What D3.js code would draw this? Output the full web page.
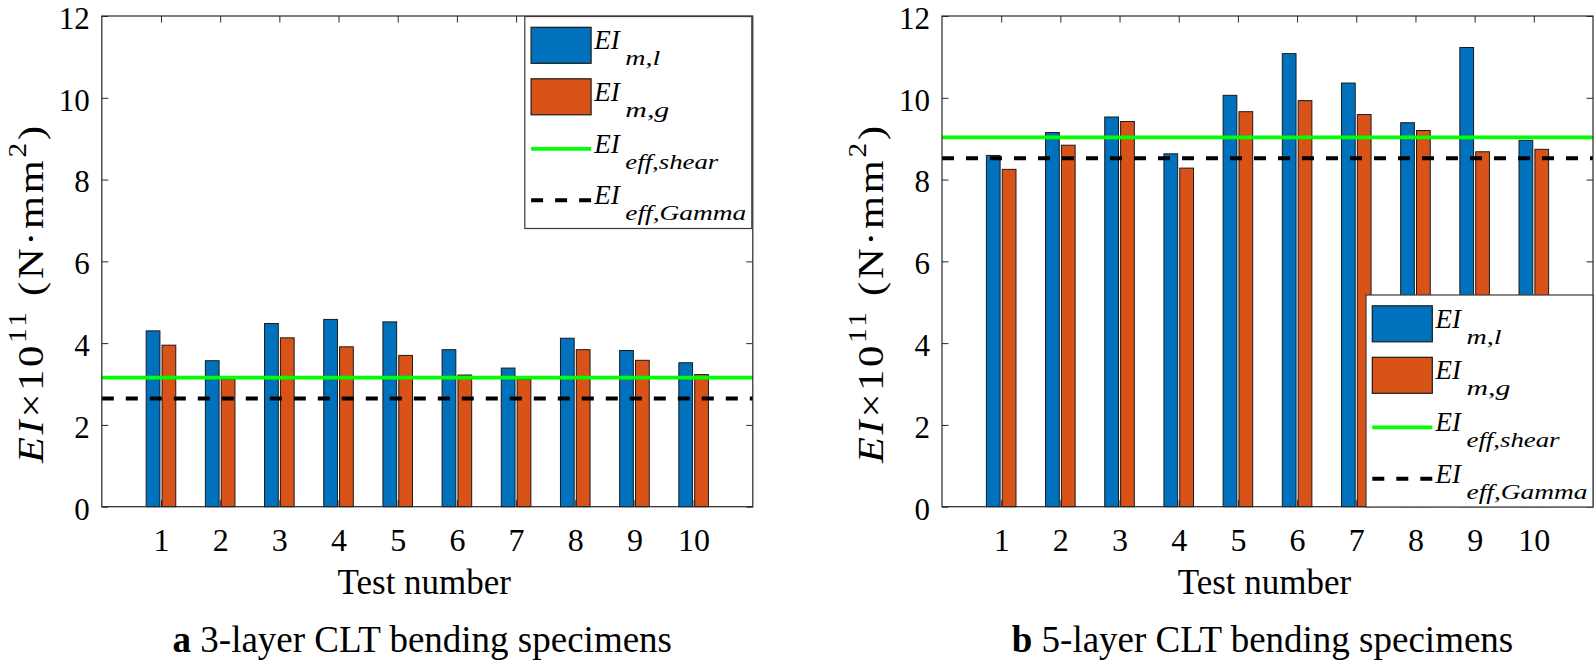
<!DOCTYPE html>
<html>
<head>
<meta charset="utf-8">
<script src="https://cdn.jsdelivr.net/npm/d3@7"></script>
<style>
  html, body { margin: 0; padding: 0; background: #fff; }
  svg { display: block; }
  text { font-family: "Liberation Serif", "Times New Roman", serif; fill: #000; }
</style>
</head>
<body>
<svg id="chart" width="1594" height="662"></svg>
<script>
// ---- data ----
const categories = [1, 2, 3, 4, 5, 6, 7, 8, 9, 10];
const yTicks = [0, 2, 4, 6, 8, 10, 12];

// Panel a: 3-layer CLT
const eiMlA = [4.30, 3.57, 4.48, 4.58, 4.52, 3.84, 3.39, 4.12, 3.82, 3.52];
const eiMgA = [3.95, 3.12, 4.13, 3.91, 3.70, 3.22, 3.12, 3.84, 3.58, 3.23];
const eiShearA = 3.155;
const eiGammaA = 2.646;

// Panel b: 5-layer CLT
const eiMlB = [8.59, 9.15, 9.53, 8.63, 10.06, 11.08, 10.36, 9.39, 11.23, 8.96];
const eiMgB = [8.25, 8.84, 9.42, 8.28, 9.66, 9.93, 9.59, 9.20, 8.68, 8.74];
const eiShearB = 9.03;
const eiGammaB = 8.52;

const legendItems = [
  { kind: "bar", color: "#0072BD", sub: "m,l" },
  { kind: "bar", color: "#D95319", sub: "m,g" },
  { kind: "solid", color: "#00FF00", sub: "eff,shear" },
  { kind: "dash", color: "#000000", sub: "eff,Gamma" }
];

const captions = [
  { letter: "a", text: " 3-layer CLT bending specimens" },
  { letter: "b", text: " 5-layer CLT bending specimens" }
];

// ---- drawing ----
const svg = d3.select("#chart");
const AX = "#262626";
const FONT = '"Liberation Serif", "Times New Roman", serif';
const yTop = 16, yBot = 506.7;
const tickLen = 6.5;

function panel(cfg) {
  const { x0, x1, ml, mg, shear, gamma, legendPos, caption, ylabelX } = cfg;
  const x = d3.scaleLinear().domain([0, 11]).range([x0, x1]);
  const y = d3.scaleLinear().domain([0, 12]).range([yBot, yTop]);
  const unit = x(1) - x(0);
  const bw = 0.232 * unit, off = 0.134 * unit;
  const g = svg.append("g");

  // bars
  const series = [{ vals: ml, color: "#0072BD", dx: -off }, { vals: mg, color: "#D95319", dx: off }];
  series.forEach(s => {
    g.append("g").selectAll("rect").data(categories).join("rect")
      .attr("x", (c) => x(c) + s.dx - bw / 2)
      .attr("y", (c, i) => y(s.vals[i]))
      .attr("width", bw)
      .attr("height", (c, i) => y(0) - y(s.vals[i]))
      .attr("fill", s.color)
      .attr("stroke", "#1a1a1a")
      .attr("stroke-width", 1);
  });

  // reference lines
  g.append("line").attr("x1", x0).attr("x2", x1).attr("y1", y(shear)).attr("y2", y(shear))
    .attr("stroke", "#00FF00").attr("stroke-width", 3.8);
  g.append("line").attr("x1", x0).attr("x2", x1).attr("y1", y(gamma)).attr("y2", y(gamma))
    .attr("stroke", "#000").attr("stroke-width", 4).attr("stroke-dasharray", "12,12");

  // axes
  const axL = g.append("g").attr("transform", `translate(${x0},0)`)
    .call(d3.axisLeft(y).tickValues(yTicks).tickSize(-tickLen).tickPadding(12).tickFormat(d3.format("d")));
  const axR = g.append("g").attr("transform", `translate(${x1},0)`)
    .call(d3.axisRight(y).tickValues(yTicks).tickSize(-tickLen).tickFormat(""));
  const axB = g.append("g").attr("transform", `translate(0,${yBot})`)
    .call(d3.axisBottom(x).tickValues(categories).tickSize(-tickLen).tickFormat(d3.format("d")));
  const axT = g.append("g").attr("transform", `translate(0,${yTop})`)
    .call(d3.axisTop(x).tickValues(categories).tickSize(-tickLen).tickFormat(""));
  [axL, axR, axB, axT].forEach(a => {
    a.select(".domain").remove();
    a.attr("font-family", FONT);
    a.selectAll(".tick line").attr("stroke", AX).attr("stroke-width", 1);
  });
  axL.selectAll("text").style("font-family", FONT).style("font-size", "31px").attr("fill", "#000")
    .attr("dy", "0.4em");
  axB.selectAll("text").style("font-family", FONT).style("font-size", "32px").attr("fill", "#000")
    .attr("y", 551 - yBot).attr("dy", 0);

  // box
  g.append("rect").attr("x", x0).attr("y", yTop).attr("width", x1 - x0).attr("height", yBot - yTop)
    .attr("fill", "none").attr("stroke", AX).attr("stroke-width", 1.2);

  // legend
  const L = g.append("g").attr("transform", `translate(${legendPos[0]},${legendPos[1]})`);
  L.append("rect").attr("x", 0).attr("y", 0).attr("width", 227).attr("height", 212)
    .attr("fill", "#fff").attr("stroke", "#3a3a3a").attr("stroke-width", 1.2);
  const rowC = [28.8, 80.3, 132.3, 183.8];
  const subW = [35, 44, 93, 121];
  legendItems.forEach((it, i) => {
    const cy = rowC[i];
    if (it.kind === "bar") {
      L.append("rect").attr("x", 6.3).attr("y", cy - 18).attr("width", 60).attr("height", 36)
        .attr("fill", it.color).attr("stroke", "#1a1a1a").attr("stroke-width", 1.2);
    } else {
      L.append("line").attr("x1", 6.3).attr("x2", 66.3).attr("y1", cy).attr("y2", cy)
        .attr("stroke", it.color).attr("stroke-width", it.kind === "dash" ? 4 : 3.8)
        .attr("stroke-dasharray", it.kind === "dash" ? "12,12" : null);
    }
    L.append("text").attr("x", 69.5).attr("y", cy + 4).style("font-size", "27px")
      .style("font-style", "italic").text("EI");
    L.append("text").attr("x", 100.5).attr("y", cy + 20).style("font-size", "21px")
      .style("font-style", "italic").attr("textLength", subW[i]).attr("lengthAdjust", "spacingAndGlyphs").text(it.sub);
  });

  // x label
  const cx = (x0 + x1) / 2;
  g.append("text").attr("x", cx - 3).attr("y", 593.5).attr("text-anchor", "middle")
    .style("font-size", "35px").text("Test number");

  // caption
  const cap = g.append("text").attr("x", cx - 5).attr("y", 651.5).attr("text-anchor", "middle").style("font-size", "37px");
  cap.append("tspan").style("font-weight", "bold").text(caption.letter);
  cap.append("tspan").text(caption.text);

  // y label (rotated, mildly stretched along its length)
  const yl = g.append("g");
  const t = yl.append("text").attr("x", 0).attr("y", 0).style("font-size", "36px");
  t.append("tspan").style("font-style", "italic").text("EI");
  t.append("tspan").text("\u00D710");
  t.append("tspan").attr("dy", -17).style("font-size", "25px").text("11");
  t.append("tspan").attr("dy", 17).text(" (N\u00B7mm");
  t.append("tspan").attr("dy", -17).style("font-size", "25px").text("2");
  t.append("tspan").attr("dy", 17).text(")");
  const target = 340, sc = 1.18;
  const w = t.node().getComputedTextLength();
  const nChars = t.text().length;
  const ls = Math.max(0, (target / sc - w) / nChars);
  t.style("letter-spacing", ls + "px");
  const w2 = t.node().getComputedTextLength() * sc;
  yl.attr("transform", `translate(${ylabelX},${293 + w2 / 2}) rotate(-90) scale(${sc},1)`);
}

panel({ x0: 101.8, x1: 752.8, ml: eiMlA, mg: eiMgA, shear: eiShearA, gamma: eiGammaA,
  legendPos: [524.8, 16.5], caption: captions[0], ylabelX: 43 });
panel({ x0: 942, x1: 1593, ml: eiMlB, mg: eiMgB, shear: eiShearB, gamma: eiGammaB,
  legendPos: [1366, 295], caption: captions[1], ylabelX: 883 });
</script>
</body>
</html>
